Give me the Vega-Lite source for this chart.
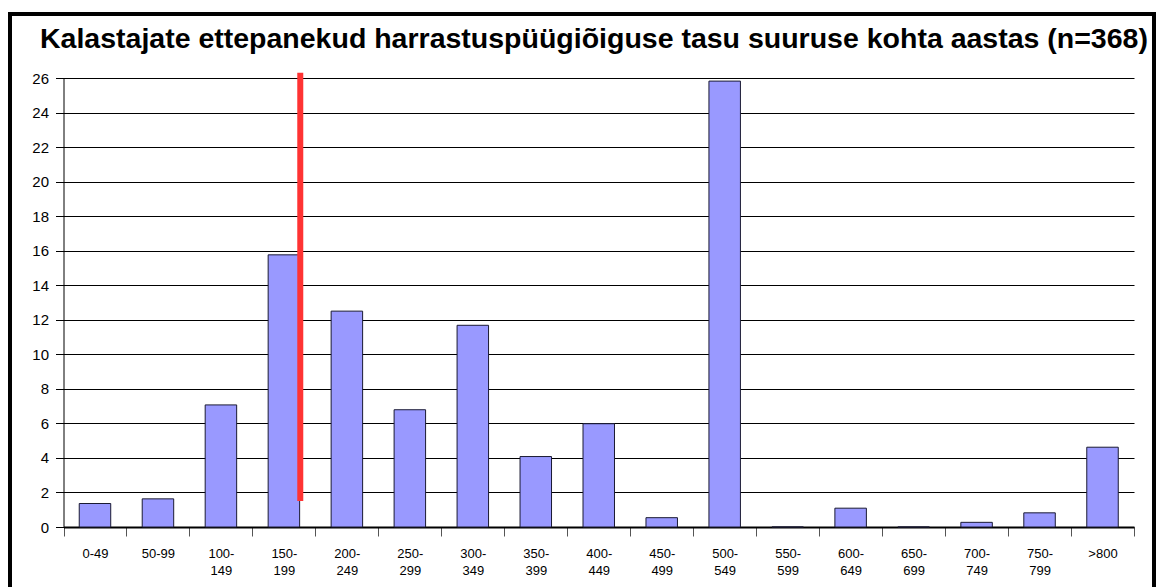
{
  "$schema": "https://vega.github.io/schema/vega-lite/v6.json",
  "width": 1144,
  "height": 575,
  "autosize": {"type": "none"},
  "padding": {"left": 10, "top": 14, "right": 3, "bottom": 0},
  "background": "white",
  "config": {
    "view": {"stroke": "black", "strokeWidth": 4, "fill": "white"},
    "font": "Liberation Sans"
  },
  "title": {
    "text": "Kalastajate ettepanekud harrastuspüügiõiguse tasu suuruse kohta aastas (n=368)",
    "anchor": "start",
    "frame": "group",
    "dx": 30,
    "dy": 43,
    "fontSize": 28.5,
    "font": "Liberation Sans",
    "fontWeight": "bold",
    "color": "black"
  },
  "datasets": {
    "bars": [
      {"cat": "0-49", "pct": 1.36},
      {"cat": "50-99", "pct": 1.63},
      {"cat": "100-149", "pct": 7.07},
      {"cat": "150-199", "pct": 15.76},
      {"cat": "200-249", "pct": 12.5},
      {"cat": "250-299", "pct": 6.79},
      {"cat": "300-349", "pct": 11.68},
      {"cat": "350-399", "pct": 4.08},
      {"cat": "400-449", "pct": 5.98},
      {"cat": "450-499", "pct": 0.54},
      {"cat": "500-549", "pct": 25.82},
      {"cat": "550-599", "pct": 0},
      {"cat": "600-649", "pct": 1.09},
      {"cat": "650-699", "pct": 0},
      {"cat": "700-749", "pct": 0.27},
      {"cat": "750-799", "pct": 0.82},
      {"cat": ">800", "pct": 4.62}
    ],
    "marker": [
      {"cat": "150-199", "top": 26.3, "bottom": 1.5}
    ]
  },
  "layer": [
    {
      "data": {"name": "bars"},
      "mark": {"type": "bar", "width": {"band": 0.5}, "fill": "#9999FF", "stroke": "#1a1a33", "strokeWidth": 1},
      "encoding": {
        "x": {
          "field": "cat",
          "type": "nominal",
          "sort": null,
          "scale": {"range": [53.5, 1124], "paddingInner": 0, "paddingOuter": 0},
          "axis": {
            "title": null,
            "orient": "bottom",
            "offset": -62,
            "domainColor": "black",
            "domainWidth": 2,
            "tickBand": "extent",
            "tickColor": "#555555",
            "tickSize": 9,
            "tickWidth": 1,
            "labelAngle": 0,
            "labelFontSize": 13,
            "labelFont": "Liberation Sans",
            "labelColor": "black",
            "labelPadding": 11,
            "labelLineHeight": 17,
            "labelBaseline": "top",
            "labelExpr": "length(datum.label) > 5 ? [slice(datum.label, 0, 4), slice(datum.label, 4)] : datum.label",
            "grid": false
          }
        },
        "y": {
          "field": "pct",
          "type": "quantitative",
          "scale": {"domain": [0, 26], "range": [513, 64], "nice": false, "zero": true},
          "axis": {
            "title": null,
            "offset": -53.5,
            "values": [0, 2, 4, 6, 8, 10, 12, 14, 16, 18, 20, 22, 24, 26],
            "grid": true,
            "gridColor": "black",
            "gridWidth": 1,
            "domainColor": "black",
            "domainWidth": 1,
            "tickColor": "black",
            "tickSize": 8,
            "labelPadding": 7,
            "labelFontSize": 15,
            "labelFont": "Liberation Sans",
            "labelColor": "black"
          }
        }
      }
    },
    {
      "data": {"name": "marker"},
      "mark": {"type": "rule", "stroke": "#FF3333", "strokeWidth": 6},
      "encoding": {
        "x": {"field": "cat", "type": "nominal", "sort": null, "bandPosition": 0.76},
        "y": {"field": "top", "type": "quantitative"},
        "y2": {"field": "bottom"}
      }
    }
  ]
}
